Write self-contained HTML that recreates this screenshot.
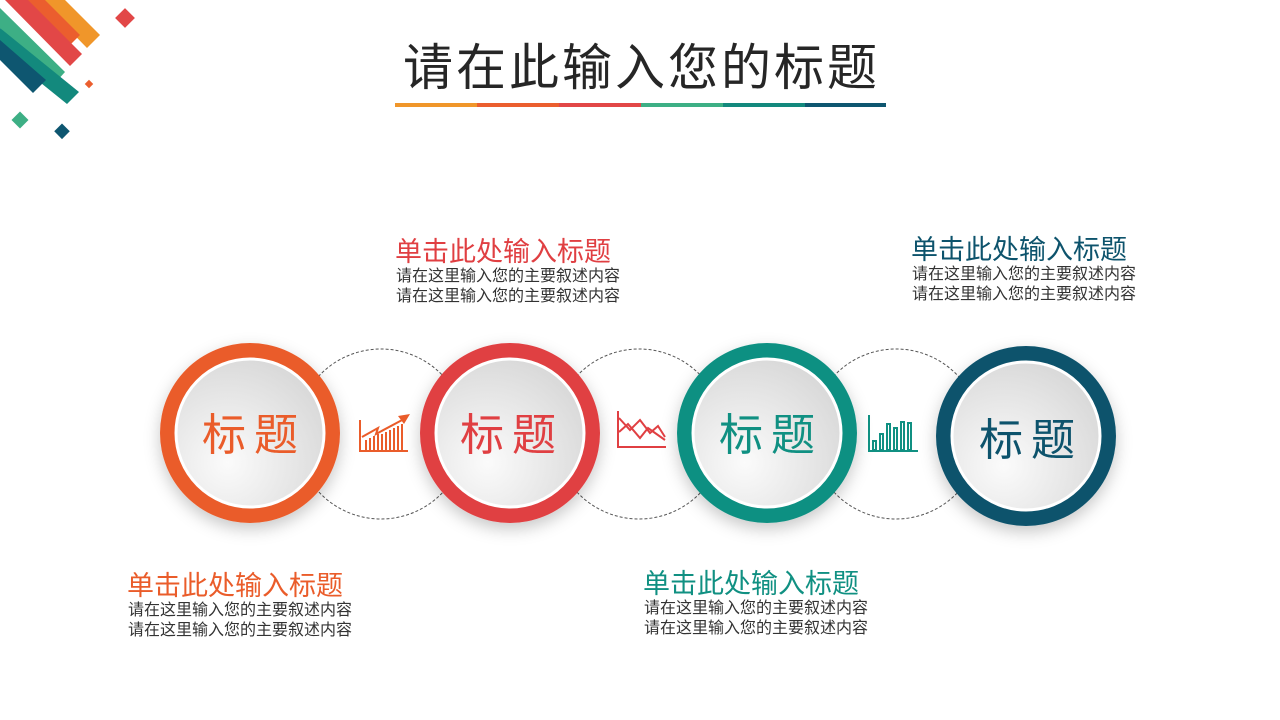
<!DOCTYPE html>
<html><head><meta charset="utf-8"><style>
body{margin:0;width:1280px;height:720px;background:#fff;overflow:hidden;position:relative;font-family:"Liberation Sans","Noto Sans CJK SC",sans-serif}
.t{position:absolute;font-size:50px;color:#262626;left:0;width:1280px;text-align:center;top:28px;letter-spacing:3px;text-indent:3px}
.h{position:absolute;font-size:27px;line-height:30px;white-space:nowrap}
.p{position:absolute;font-size:16px;line-height:20px;color:#333;white-space:nowrap}
</style></head><body>
<svg width="1280" height="720" style="position:absolute;left:0;top:0">
<defs>
<radialGradient id="g" cx="0.35" cy="0.7" r="0.8"><stop offset="0" stop-color="#fbfbfb"/><stop offset="1" stop-color="#d6d6d6"/></radialGradient>
<filter id="s" x="-30%" y="-30%" width="160%" height="160%"><feDropShadow dx="0" dy="6" stdDeviation="8" flood-color="#000" flood-opacity="0.22"/></filter>
</defs>
<g>
<polygon points="40,0 65,0 100,35 87,48" fill="#f0962a"/>
<polygon points="22,0 45,0 80,35 68,47" fill="#eb5e2e"/>
<polygon points="5,0 28,0 82,54 70,66" fill="#e24747"/>
<polygon points="0,8 0,28 55,83 65,72" fill="#3daf85"/>
<polygon points="0,28 0,50 67,104 79,92" fill="#13897d"/>
<polygon points="0,40 0,60 33,93 46,80" fill="#0e5670"/>
<rect x="118" y="11" width="14" height="14" transform="rotate(45 125 18)" fill="#e24747"/>
<rect x="86" y="81" width="6" height="6" transform="rotate(45 89 84)" fill="#eb5e2e"/>
<rect x="14" y="114" width="12" height="12" transform="rotate(45 20 120)" fill="#3daf85"/>
<rect x="56" y="126" width="11" height="11" transform="rotate(45 62 132)" fill="#0e5670"/>
</g>
<rect x="395" y="103" width="82" height="4" fill="#f0962a"/>
<rect x="477" y="103" width="82" height="4" fill="#eb5e2e"/>
<rect x="559" y="103" width="82" height="4" fill="#e24747"/>
<rect x="641" y="103" width="82" height="4" fill="#3daf85"/>
<rect x="723" y="103" width="82" height="4" fill="#13897d"/>
<rect x="805" y="103" width="81" height="4" fill="#0e5670"/>
<g fill="none" stroke="#555" stroke-width="1" stroke-dasharray="3,2">
<circle cx="381" cy="434" r="85"/><circle cx="639" cy="434" r="85"/><circle cx="896" cy="434" r="85"/>
</g>
<g filter="url(#s)">
<circle cx="250" cy="433" r="90" fill="#ea5c2a"/>
<circle cx="510" cy="433" r="90" fill="#e03f42"/>
<circle cx="767" cy="433" r="90" fill="#109082"/>
<circle cx="1026" cy="436" r="90" fill="#0d536c"/>
</g>
<g fill="url(#g)" stroke="#fff" stroke-width="3">
<circle cx="250" cy="433" r="74"/><circle cx="510" cy="433" r="74"/><circle cx="767" cy="433" r="74"/><circle cx="1026" cy="436" r="74"/>
</g>
<g font-size="44" text-anchor="middle" font-family="Liberation Sans,Noto Sans CJK SC,sans-serif">
<text x="254" y="450" fill="#ea5c2a" letter-spacing="8">标题</text>
<text x="512" y="450" fill="#e03f42" letter-spacing="8">标题</text>
<text x="771" y="450" fill="#109082" letter-spacing="8">标题</text>
<text x="1031" y="455" fill="#0d536c" letter-spacing="8">标题</text>
</g>
<g stroke="#ea5c2a" stroke-width="2" fill="none">
<path d="M360 420 V451 H408"/>
<path d="M362 437 L378 428 L376 434 L404 419"/>
<path d="M366 450 V440 M370 450V438 M374 450V436 M378 450V434 M382 450V434 M386 450V432 M390 450V430 M394 450V428 M398 450V426 M402 450V424"/>
</g>
<polygon points="398,416 410,414 404,424" fill="#ea5c2a"/>
<g stroke="#e03f42" stroke-width="2" fill="none">
<path d="M618 411 V447 H666"/>
<path d="M619 418 L630 430 L640 420 L650 433 L658 426 L665 437"/>
<path d="M619 432 L628 424 L640 438 L648 428 L665 440"/>
</g>
<g stroke="#109082" stroke-width="2" fill="none">
<path d="M869 415 V451 H918"/>
<rect x="873" y="441" width="3" height="9"/><rect x="880" y="434" width="3" height="16"/><rect x="887" y="424" width="3" height="26"/><rect x="894" y="428" width="3" height="22"/><rect x="901" y="422" width="3" height="28"/><rect x="908" y="423" width="3" height="27"/>
</g>
</svg>
<div class="t">请在此输入您的标题</div>

<div class="h" style="left:395px;top:237px;color:#e03f42">单击此处输入标题</div>
<div class="p" style="left:396px;top:267px">请在这里输入您的主要叙述内容<br>请在这里输入您的主要叙述内容</div>

<div class="h" style="left:911px;top:235px;color:#0d536c">单击此处输入标题</div>
<div class="p" style="left:912px;top:265px">请在这里输入您的主要叙述内容<br>请在这里输入您的主要叙述内容</div>

<div class="h" style="left:127px;top:571px;color:#ea5c2a">单击此处输入标题</div>
<div class="p" style="left:128px;top:601px">请在这里输入您的主要叙述内容<br>请在这里输入您的主要叙述内容</div>

<div class="h" style="left:643px;top:569px;color:#109082">单击此处输入标题</div>
<div class="p" style="left:644px;top:599px">请在这里输入您的主要叙述内容<br>请在这里输入您的主要叙述内容</div>
</body></html>
